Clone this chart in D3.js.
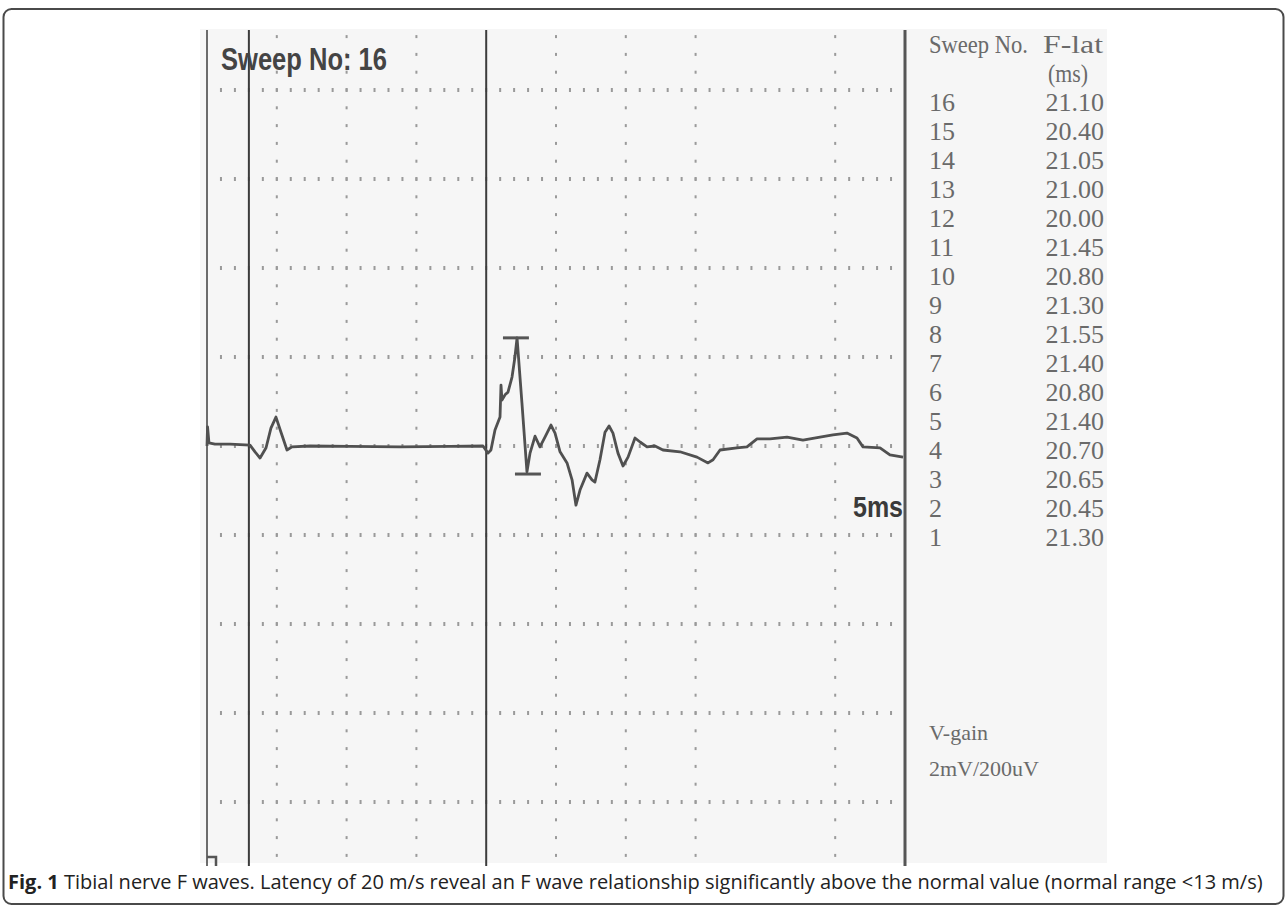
<!DOCTYPE html>
<html>
<head>
<meta charset="utf-8">
<script src="https://cdn.jsdelivr.net/npm/d3@7"></script>
<style>
  body { margin: 0; background: #fff; }
  svg { display: block; }
</style>
</head>
<body>
<svg id="chart" width="1287" height="908"></svg>
<script>
// waveform samples, time in ms and amplitude in uV
const traceTime = [0, 0.04, 0.14, 0.57, 1.65, 3.08, 3.44, 3.80, 4.23, 4.58, 4.94, 5.30, 5.73, 6.09, 7.38,
    10.24, 13.83, 17.41, 19.77, 20.13, 20.34, 20.63, 20.99, 21.06, 21.13, 21.35, 21.56, 21.85, 22.06, 22.21,
    22.56, 22.92, 23.14, 23.50, 23.85, 24.21, 24.64, 24.93, 25.29, 25.79, 26.15, 26.43, 26.72, 27.22, 27.58,
    27.79, 28.15, 28.51, 28.80, 29.08, 29.44, 29.80, 30.16, 30.66, 31.02, 31.52, 32.09, 32.66, 33.88, 35.10,
    35.89, 36.25, 36.75, 37.96, 38.68, 39.40, 40.33, 41.55, 42.69, 43.91, 44.84, 45.84, 46.56, 46.99, 48.21,
    48.92, 49.86];
const traceAmp = [0, 43, 7, 4, 4, 2, -13, -27, -4, 40, 65, 31, -9, -2, 0,
    -1, -2, -1, 0, -16, -9, 36, 65, 137, 103, 115, 121, 155, 200, 243,
    97, -58, -16, 22, -2, 20, 47, 29, -13, -38, -76, -133, -99, -61, -76,
    -81, -31, 31, 45, 29, -16, -45, -25, 18, 9, -2, 0, -9, -13, -25,
    -38, -31, -9, -4, -2, 16, 16, 20, 13, 20, 25, 29, 18, -2, -4,
    -20, -25];

// amplitude cursors (start ms, end ms, level uV)
const peakCursor = [21.2, 23.06, 243];
const troughCursor = [22.06, 23.92, -63];
// latency cursors in ms
const cursorLines = [0, 3.0, 20.0, 50];

const sweepNo = ['16', '15', '14', '13', '12', '11', '10', '9', '8', '7', '6', '5', '4', '3', '2', '1'];
const fLat = ['21.10', '20.40', '21.05', '21.00', '20.00', '21.45', '20.80', '21.30', '21.55', '21.40',
    '20.80', '21.40', '20.70', '20.65', '20.45', '21.30'];

const xTicks = d3.range(0, 55, 5);
const yTicks = d3.range(-800, 1000, 200);

const svg = d3.select('#chart');

// outer frame of the figure
svg.append('rect')
    .attr('x', 3.5).attr('y', 9).attr('width', 1280).attr('height', 895)
    .attr('rx', 8)
    .attr('fill', 'none').attr('stroke', '#4a4a4a').attr('stroke-width', 2);

// screenshot background
svg.append('rect')
    .attr('x', 200).attr('y', 29).attr('width', 907).attr('height', 834)
    .attr('fill', '#f6f6f6');

const x = d3.scaleLinear().domain([0, 50]).range([207, 905]);
const y = d3.scaleLinear().domain([0, 200]).range([446, 357]);
const top_y = 30, bottom_y = 866;

let grid = svg.append('g').attr('fill', '#9a9a9a');

// vertical dotted grid lines
xTicks.filter(t => t % 20 !== 0 && t !== 50).forEach(t => {
    let step = (y(0) - y(200)) / 5;
    let start = y(800) - Math.floor((y(800) - top_y) / step) * step;
    for (let yy = start; yy <= bottom_y; yy += step) {
        grid.append('rect').attr('x', x(t) - 1).attr('y', yy - 1.5).attr('width', 2).attr('height', 3);
    }
});

// horizontal dotted grid lines
yTicks.forEach(v => {
    let step = (x(5) - x(0)) / 5;
    for (let xx = x(0) + step; xx < x(50) - 2; xx += step) {
        grid.append('rect').attr('x', xx - 1).attr('y', y(v) - 2).attr('width', 2).attr('height', 4);
    }
});

// solid cursor lines
svg.append('g').selectAll('line')
    .data(cursorLines)
    .join('line')
    .attr('x1', d => x(d)).attr('x2', d => x(d))
    .attr('y1', top_y).attr('y2', bottom_y)
    .attr('stroke', d => d === 50 ? '#555' : '#3c3c3c')
    .attr('stroke-width', d => d === 50 ? 3 : (d === 0 ? 1.5 : 2));

// little mark at bottom left
svg.append('path')
    .attr('d', `M${x(0)},857 H${x(0) + 9} V866`)
    .attr('fill', 'none').attr('stroke', '#555').attr('stroke-width', 2.5);

// the waveform
const line = d3.line().x(d => x(d[0])).y(d => y(d[1]));
svg.append('path')
    .datum(traceTime.map((t, i) => [t, traceAmp[i]]))
    .attr('d', line)
    .attr('fill', 'none')
    .attr('stroke', '#505050')
    .attr('stroke-width', 2.8)
    .attr('stroke-linejoin', 'round');

// amplitude cursors
[peakCursor, troughCursor].forEach(c => {
    svg.append('line')
        .attr('x1', x(c[0])).attr('x2', x(c[1]))
        .attr('y1', y(c[2])).attr('y2', y(c[2]))
        .attr('stroke', '#555').attr('stroke-width', 3);
});

// labels in the trace area
svg.append('text')
    .attr('x', 221).attr('y', 70)
    .attr('font-family', 'Liberation Sans, Arial, sans-serif')
    .attr('font-weight', 'bold').attr('font-size', 31)
    .attr('textLength', 166).attr('lengthAdjust', 'spacingAndGlyphs')
    .attr('fill', '#444')
    .text('Sweep No: 16');

svg.append('text')
    .attr('x', 853).attr('y', 517)
    .attr('font-family', 'Liberation Sans, Arial, sans-serif')
    .attr('font-weight', 'bold').attr('font-size', 30)
    .attr('textLength', 50).attr('lengthAdjust', 'spacingAndGlyphs')
    .attr('fill', '#3a3a3a')
    .text('5ms');

// latency table on the right
let table = svg.append('g')
    .attr('font-family', 'Liberation Serif, Times New Roman, serif')
    .attr('font-size', 26)
    .attr('fill', '#6a6a6a');

table.append('text').attr('x', 929).attr('y', 53)
    .attr('textLength', 99).attr('lengthAdjust', 'spacingAndGlyphs').text('Sweep No.');
table.append('text').attr('x', 1043).attr('y', 53)
    .attr('textLength', 60).attr('lengthAdjust', 'spacingAndGlyphs').text('F-lat');
table.append('text').attr('x', 1048).attr('y', 82)
    .attr('textLength', 40).attr('lengthAdjust', 'spacingAndGlyphs').text('(ms)');

const rowY = d3.scaleLinear().domain([0, 1]).range([111, 140]);
table.selectAll('text.sweep')
    .data(sweepNo)
    .join('text')
    .attr('class', 'sweep')
    .attr('x', 929).attr('y', (d, i) => rowY(i))
    .text(d => d);
table.selectAll('text.lat')
    .data(fLat)
    .join('text')
    .attr('class', 'lat')
    .attr('x', 1104).attr('y', (d, i) => rowY(i))
    .attr('text-anchor', 'end')
    .text(d => d);

table.append('text').attr('x', 929).attr('y', 740).attr('font-size', 22).text('V-gain');
table.append('text').attr('x', 929).attr('y', 776).attr('font-size', 22).text('2mV/200uV');

// caption
let caption = svg.append('text')
    .attr('x', 8).attr('y', 889)
    .attr('font-family', 'Open Sans, sans-serif')
    .attr('font-size', 20)
    .attr('fill', '#222');
caption.append('tspan').attr('font-weight', 'bold').text('Fig. 1');
caption.append('tspan').text(' Tibial nerve F waves. Latency of 20 m/s reveal an F wave relationship significantly above the normal value (normal range <13 m/s)');
</script>
</body>
</html>
